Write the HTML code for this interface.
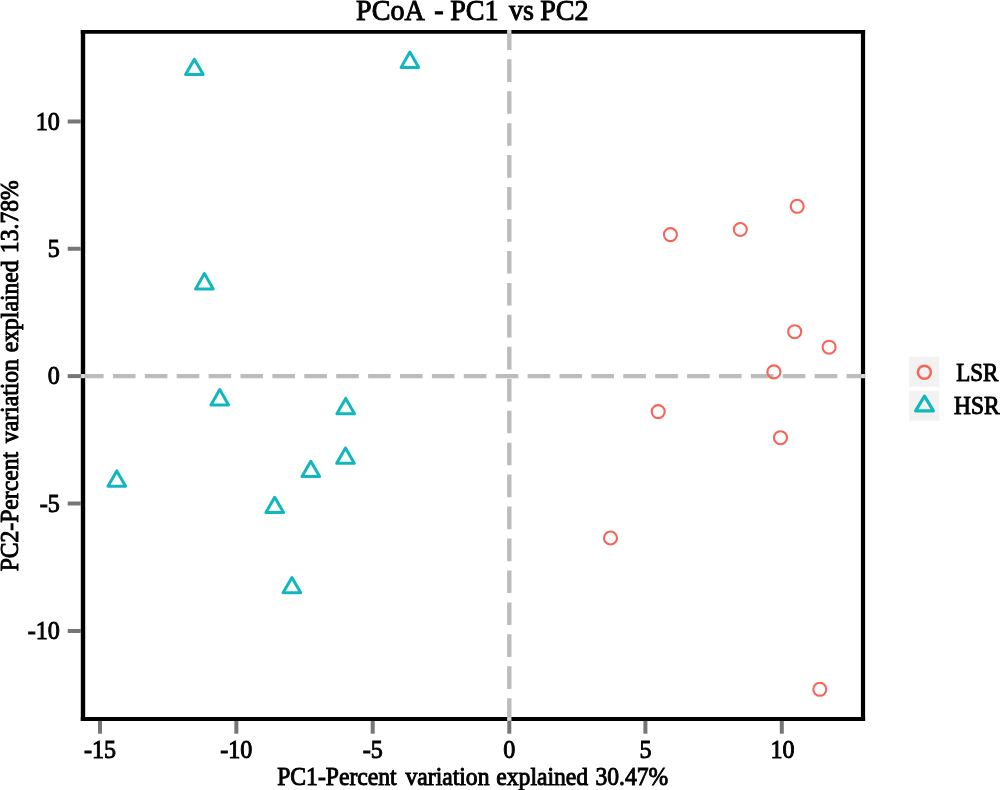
<!DOCTYPE html>
<html><head><meta charset="utf-8">
<style>
html,body{margin:0;padding:0;background:#fff;}
body{width:1000px;height:790px;overflow:hidden;position:relative;font-family:"Liberation Serif",serif;color:#000;}
svg{position:absolute;left:0;top:0;display:block;will-change:transform;}
text{font-family:"Liberation Serif",serif;fill:#000;stroke:#000;stroke-width:0.95px;}
</style></head>
<body>
<svg width="1000" height="790" viewBox="0 0 1000 790">
<rect x="0" y="0" width="1000" height="790" fill="#fff"/>
<g stroke="#000" fill="none">
<line x1="80.8" y1="31.9" x2="865.1" y2="31.9" stroke-width="3.7"/>
<line x1="80.8" y1="719" x2="865.1" y2="719" stroke-width="3.9"/>
<line x1="83" y1="30.1" x2="83" y2="720.9" stroke-width="4.4"/>
<line x1="863" y1="30.1" x2="863" y2="720.9" stroke-width="4.2"/>
</g>
<line x1="81" y1="376.05" x2="865.1" y2="376.05" stroke="#bcbcbc" stroke-width="4.3" stroke-dasharray="22.6 9.3"/>
<line x1="509.3" y1="720.9" x2="509.3" y2="30.1" stroke="#bcbcbc" stroke-width="4.4" stroke-dasharray="22.65 9.3"/>
<g fill="#dcdcdc">
<rect x="81.6" y="374.2" width="2.8" height="3.7"/>
<rect x="861.6" y="374.2" width="2.8" height="3.7"/>
<rect x="507.6" y="30.6" width="3.4" height="2.6"/>
<rect x="507.6" y="717.7" width="3.4" height="2.6"/>
</g>
<g stroke="#767676" stroke-width="4.0">
<line x1="100.0" y1="720.9" x2="100.0" y2="733.7"/>
<line x1="236.35" y1="720.9" x2="236.35" y2="733.7"/>
<line x1="372.7" y1="720.9" x2="372.7" y2="733.7"/>
<line x1="509.3" y1="720.9" x2="509.3" y2="733.7"/>
<line x1="645.4" y1="720.9" x2="645.4" y2="733.7"/>
<line x1="781.8" y1="720.9" x2="781.8" y2="733.7"/>
<line x1="67.7" y1="121.5" x2="80.8" y2="121.5"/>
<line x1="67.7" y1="248.75" x2="80.8" y2="248.75"/>
<line x1="67.7" y1="376.1" x2="80.8" y2="376.1"/>
<line x1="67.7" y1="503.5" x2="80.8" y2="503.5"/>
<line x1="67.7" y1="631.0" x2="80.8" y2="631.0"/>
</g>
<text transform="translate(100.0,758.2) scale(0.935,1)" font-size="25.8" text-anchor="middle">-15</text>
<text transform="translate(236.35,758.2) scale(0.935,1)" font-size="25.8" text-anchor="middle">-10</text>
<text transform="translate(372.7,758.2) scale(0.935,1)" font-size="25.8" text-anchor="middle">-5</text>
<text transform="translate(509.3,758.2) scale(0.935,1)" font-size="25.8" text-anchor="middle">0</text>
<text transform="translate(645.4,758.2) scale(0.935,1)" font-size="25.8" text-anchor="middle">5</text>
<text transform="translate(782.6,758.2) scale(0.935,1)" font-size="25.8" text-anchor="middle">10</text>
<text transform="translate(59.9,129.60) scale(0.935,1)" font-size="25.8" text-anchor="end">10</text>
<text transform="translate(59.9,256.85) scale(0.935,1)" font-size="25.8" text-anchor="end">5</text>
<text transform="translate(59.9,384.20) scale(0.935,1)" font-size="25.8" text-anchor="end">0</text>
<text transform="translate(59.9,511.60) scale(0.935,1)" font-size="25.8" text-anchor="end">-5</text>
<text transform="translate(59.9,639.10) scale(0.935,1)" font-size="25.8" text-anchor="end">-10</text>
<text transform="translate(0,20.2) scale(0.95,1)" font-size="29.6"><tspan x="374.85">PCoA</tspan> <tspan x="457.12">-</tspan> <tspan x="473.90">PC1</tspan> <tspan x="535.84">vs</tspan> <tspan x="568.64">PC2</tspan></text>
<text transform="translate(0,784.9) scale(0.931,1)" font-size="25.4"><tspan x="297.73">PC1-Percent</tspan> <tspan x="435.54">variation</tspan> <tspan x="533.08">explained</tspan> <tspan x="639.59">30.47%</tspan></text>
<text transform="translate(18.1,848.55) rotate(-90) scale(0.931,1)" font-size="25.4"><tspan x="297.73">PC2-Percent</tspan> <tspan x="435.54">variation</tspan> <tspan x="533.08">explained</tspan> <tspan x="639.54">13.78%</tspan></text>
<g fill="none" stroke="#10b8be" stroke-width="3" stroke-linejoin="round">
<path d="M194.40 59.20L203.20 74.50L185.60 74.50Z"/>
<path d="M409.90 52.10L418.70 67.40L401.10 67.40Z"/>
<path d="M204.40 273.60L213.20 288.90L195.60 288.90Z"/>
<path d="M219.75 389.60L228.55 404.90L210.95 404.90Z"/>
<path d="M345.70 398.40L354.50 413.70L336.90 413.70Z"/>
<path d="M345.50 448.00L354.30 463.30L336.70 463.30Z"/>
<path d="M116.80 470.90L125.60 486.20L108.00 486.20Z"/>
<path d="M310.80 461.30L319.60 476.60L302.00 476.60Z"/>
<path d="M274.70 497.20L283.50 512.50L265.90 512.50Z"/>
<path d="M291.90 577.50L300.70 592.80L283.10 592.80Z"/>
</g>
<g fill="none" stroke="#f6645a" stroke-width="2.1">
<circle cx="797.2" cy="206.3" r="6.5"/>
<circle cx="740.3" cy="229.5" r="6.5"/>
<circle cx="670.4" cy="234.6" r="6.5"/>
<circle cx="794.7" cy="331.7" r="6.5"/>
<circle cx="829.1" cy="347.2" r="6.5"/>
<circle cx="773.9" cy="371.9" r="6.5"/>
<circle cx="658.2" cy="411.6" r="6.5"/>
<circle cx="780.5" cy="437.7" r="6.5"/>
<circle cx="610.5" cy="538.0" r="6.5"/>
<circle cx="819.8" cy="689.3" r="6.5"/>
</g>
<rect x="909.2" y="356.7" width="30.2" height="30.1" fill="#f2f2f2"/>
<rect x="909.2" y="390.8" width="30.2" height="30" fill="#f2f2f2"/>
<circle cx="924.4" cy="372.3" r="6.5" fill="none" stroke="#f6645a" stroke-width="2.5"/>
<g fill="none" stroke="#10b8be" stroke-width="3.2" stroke-linejoin="round"><path d="M924.50 396.20L933.40 410.80L915.60 410.80Z"/></g>
<text transform="translate(956.13,381.4) scale(0.9138,1)" font-size="25.2" stroke="#fff" stroke-width="0.4">LSR</text>
<text transform="translate(954.01,413.5) scale(0.9506,1)" font-size="24.6" stroke="#fff" stroke-width="0.4">HSR</text>
</svg>
</body></html>
